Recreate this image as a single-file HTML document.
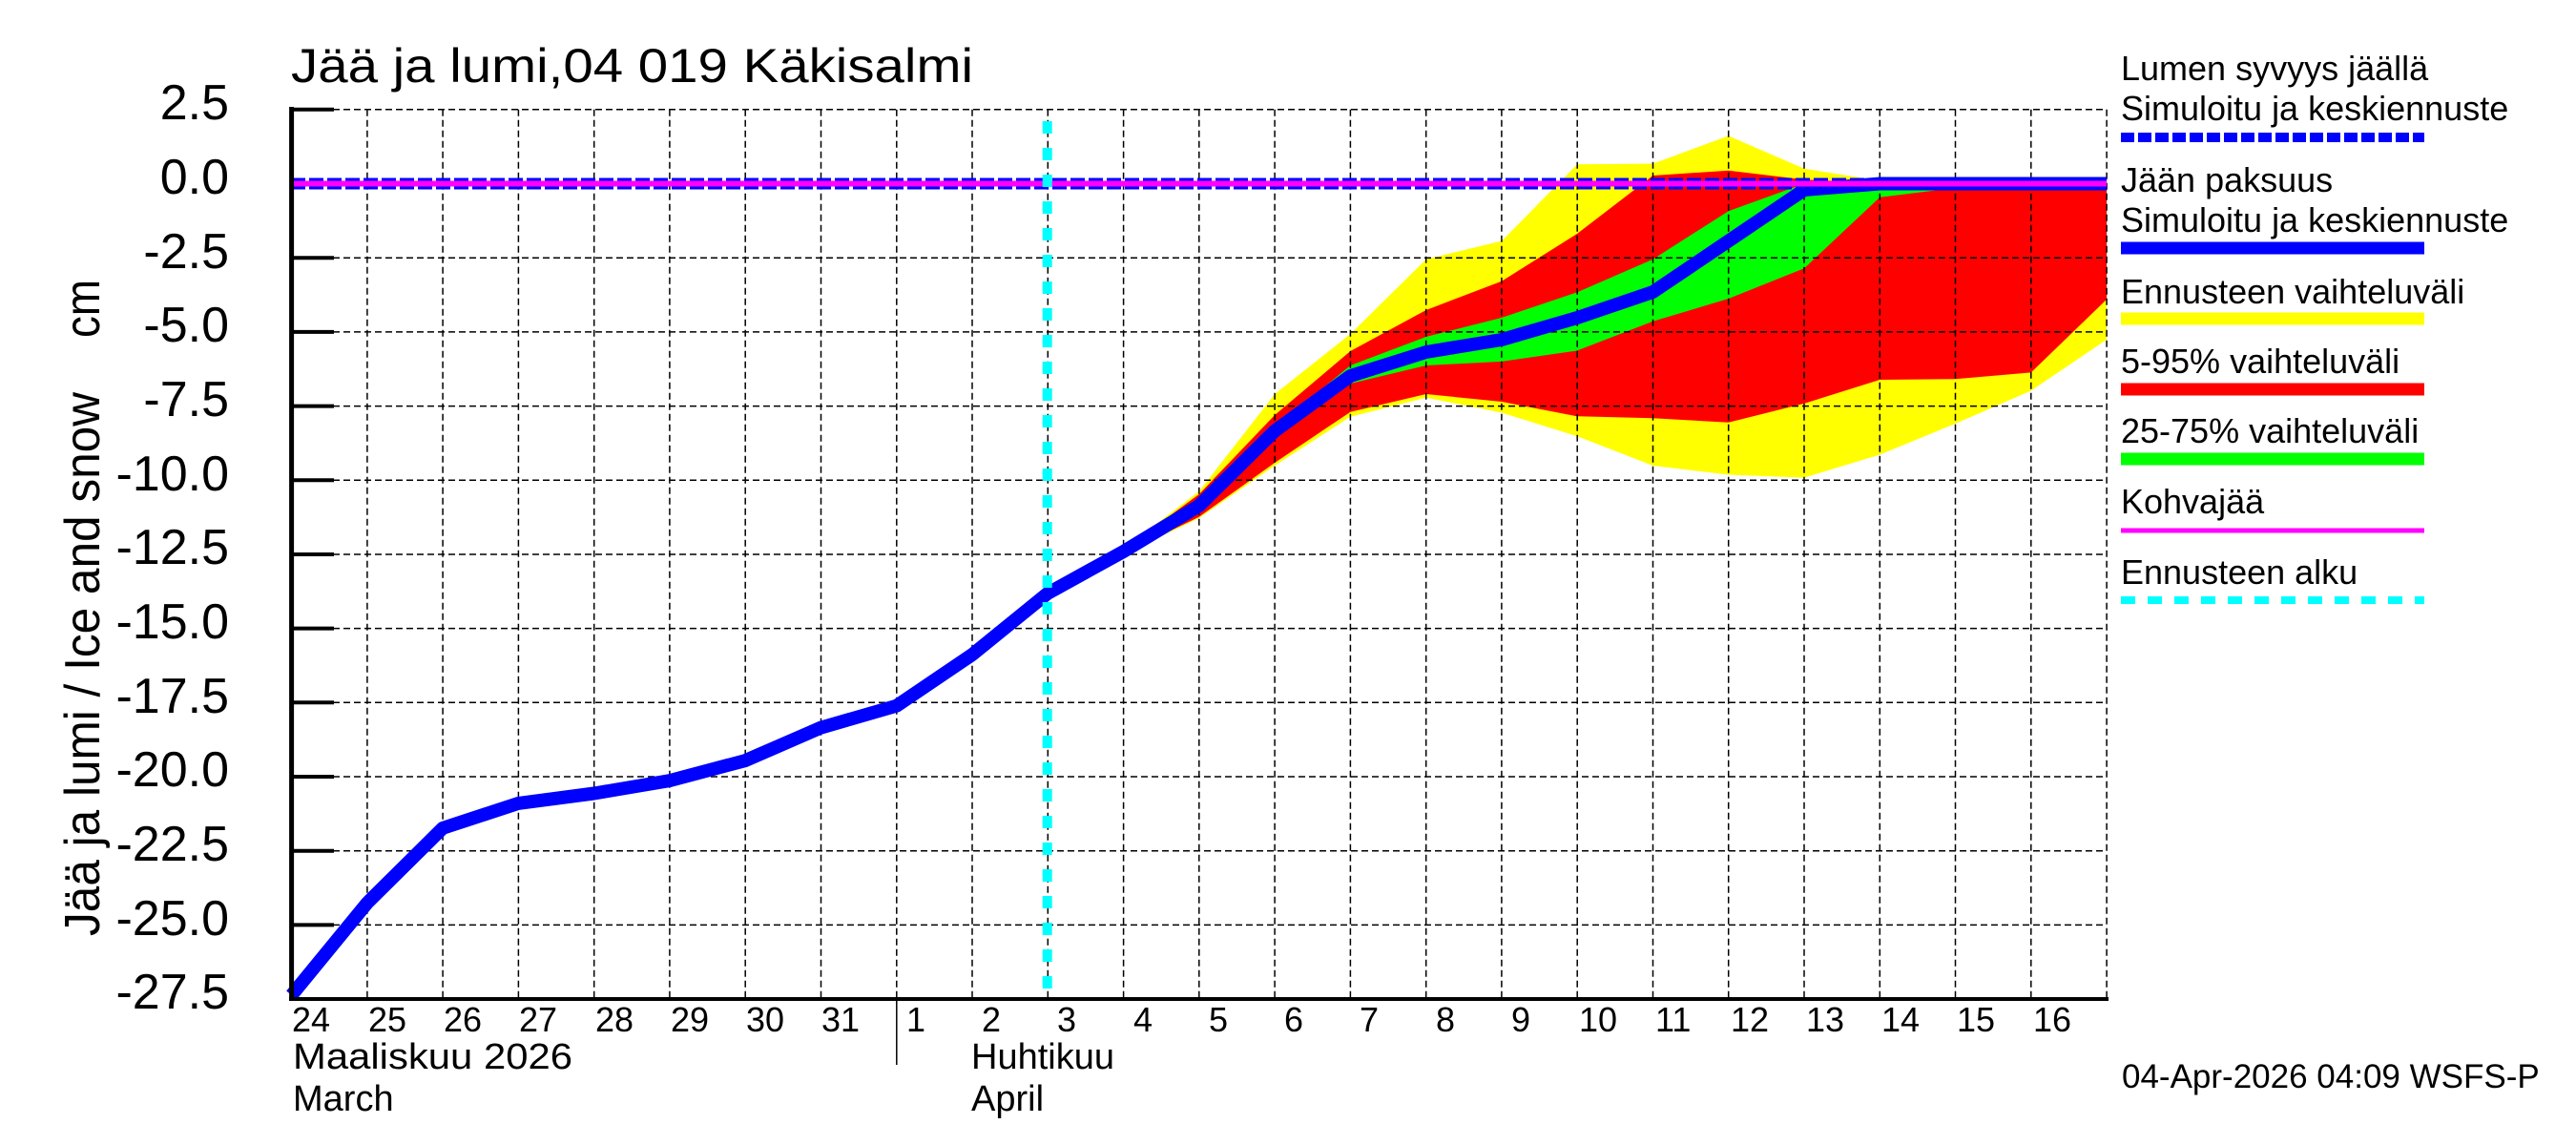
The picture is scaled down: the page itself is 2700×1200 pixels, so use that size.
<!DOCTYPE html>
<html><head><meta charset="utf-8"><style>
html,body{margin:0;padding:0;background:#fff;}
svg{display:block;font-family:"Liberation Sans",Arial,sans-serif;}
</style></head><body>
<svg width="2700" height="1200" viewBox="0 0 2700 1200" xmlns="http://www.w3.org/2000/svg">
<rect width="2700" height="1200" fill="#fff"/>
<polygon fill="#ffff00" points="1098.3,621.7 1177.6,575 1256.8,515 1336.1,413 1415.4,350 1494.7,271.7 1573.9,252.6 1653.2,172.2 1732.5,171.5 1811.7,142.4 1891,176.8 1970.3,189.4 2049.5,192.5 2208.1,192.5 2208.1,355.9 2128.8,409.5 2049.5,444 1970.3,476.5 1891,500.6 1811.7,497.5 1732.5,488 1653.2,457.3 1573.9,432.5 1494.7,416.7 1415.4,436.7 1336.1,488 1256.8,543 1177.6,581"/>
<polygon fill="#ff0000" points="1098.3,621.7 1177.6,576 1256.8,518 1336.1,435 1415.4,368 1494.7,325 1573.9,294.7 1653.2,244.9 1732.5,184 1811.7,178.7 1891,188.3 1970.3,191.4 2049.5,192.5 2208.1,192.5 2208.1,313.8 2128.8,390.4 2049.5,397.2 1970.3,398 1891,422.9 1811.7,442.8 1732.5,438.2 1653.2,436.3 1573.9,421 1494.7,413 1415.4,431.7 1336.1,485 1256.8,541.7 1177.6,580"/>
<polygon fill="#00ff00" points="1256.8,530 1336.1,448 1415.4,383 1494.7,353 1573.9,333 1653.2,306.2 1732.5,271.7 1811.7,221.2 1891,192.5 2049.5,192.5 2049.5,197 1970.3,206.7 1891,281.3 1811.7,313 1732.5,336.8 1653.2,367.4 1573.9,378.9 1494.7,383 1415.4,402 1336.1,455 1256.8,531"/>
<g stroke="#000" stroke-width="1.5" stroke-dasharray="7,4" fill="none">
<line x1="305" y1="114.8" x2="2208" y2="114.8"/>
<line x1="305" y1="270.2" x2="2208" y2="270.2"/>
<line x1="305" y1="347.9" x2="2208" y2="347.9"/>
<line x1="305" y1="425.6" x2="2208" y2="425.6"/>
<line x1="305" y1="503.3" x2="2208" y2="503.3"/>
<line x1="305" y1="581" x2="2208" y2="581"/>
<line x1="305" y1="658.6" x2="2208" y2="658.6"/>
<line x1="305" y1="736.3" x2="2208" y2="736.3"/>
<line x1="305" y1="814" x2="2208" y2="814"/>
<line x1="305" y1="891.7" x2="2208" y2="891.7"/>
<line x1="305" y1="969.4" x2="2208" y2="969.4"/>
<line x1="384.9" y1="114.8" x2="384.9" y2="1047"/>
<line x1="464.1" y1="114.8" x2="464.1" y2="1047"/>
<line x1="543.4" y1="114.8" x2="543.4" y2="1047"/>
<line x1="622.7" y1="114.8" x2="622.7" y2="1047"/>
<line x1="701.9" y1="114.8" x2="701.9" y2="1047"/>
<line x1="781.2" y1="114.8" x2="781.2" y2="1047"/>
<line x1="860.5" y1="114.8" x2="860.5" y2="1047"/>
<line x1="939.8" y1="114.8" x2="939.8" y2="1047"/>
<line x1="1019" y1="114.8" x2="1019" y2="1047"/>
<line x1="1098.3" y1="114.8" x2="1098.3" y2="1047"/>
<line x1="1177.6" y1="114.8" x2="1177.6" y2="1047"/>
<line x1="1256.8" y1="114.8" x2="1256.8" y2="1047"/>
<line x1="1336.1" y1="114.8" x2="1336.1" y2="1047"/>
<line x1="1415.4" y1="114.8" x2="1415.4" y2="1047"/>
<line x1="1494.7" y1="114.8" x2="1494.7" y2="1047"/>
<line x1="1573.9" y1="114.8" x2="1573.9" y2="1047"/>
<line x1="1653.2" y1="114.8" x2="1653.2" y2="1047"/>
<line x1="1732.5" y1="114.8" x2="1732.5" y2="1047"/>
<line x1="1811.7" y1="114.8" x2="1811.7" y2="1047"/>
<line x1="1891" y1="114.8" x2="1891" y2="1047"/>
<line x1="1970.3" y1="114.8" x2="1970.3" y2="1047"/>
<line x1="2049.5" y1="114.8" x2="2049.5" y2="1047"/>
<line x1="2128.8" y1="114.8" x2="2128.8" y2="1047"/>
<line x1="2208.1" y1="114.8" x2="2208.1" y2="1047"/>
</g>
<polyline fill="none" stroke="#0000ff" stroke-width="14" stroke-linejoin="round" points="305.6,1043 384.9,946.3 464.1,867.9 543.4,841.9 622.7,831.5 701.9,818.1 781.2,797.1 860.5,762.6 939.8,739.7 1019,686.1 1098.3,621.7 1177.6,578 1256.8,530 1336.1,451.7 1415.4,394 1494.7,369 1573.9,356 1653.2,333 1732.5,306 1811.7,252.6 1891,199 1970.3,192.5 2208.1,192.5"/>
<line x1="305" y1="192.5" x2="2208" y2="192.5" stroke="#0000ff" stroke-width="12" stroke-dasharray="15,4"/>
<line x1="305" y1="192.5" x2="2208" y2="192.5" stroke="#ff00ff" stroke-width="6"/>
<line x1="1097.7" y1="127" x2="1097.7" y2="1047" stroke="#00ffff" stroke-width="10" stroke-dasharray="13,15"/>
<line x1="305.6" y1="112" x2="305.6" y2="1049" stroke="#000" stroke-width="5"/>
<line x1="303" y1="1047" x2="2210" y2="1047" stroke="#000" stroke-width="4"/>
<g stroke="#000" stroke-width="4">
<line x1="305" y1="114.8" x2="350" y2="114.8"/>
<line x1="305" y1="270.2" x2="350" y2="270.2"/>
<line x1="305" y1="347.9" x2="350" y2="347.9"/>
<line x1="305" y1="425.6" x2="350" y2="425.6"/>
<line x1="305" y1="503.3" x2="350" y2="503.3"/>
<line x1="305" y1="581" x2="350" y2="581"/>
<line x1="305" y1="658.6" x2="350" y2="658.6"/>
<line x1="305" y1="736.3" x2="350" y2="736.3"/>
<line x1="305" y1="814" x2="350" y2="814"/>
<line x1="305" y1="891.7" x2="350" y2="891.7"/>
<line x1="305" y1="969.4" x2="350" y2="969.4"/>
</g>
<line x1="939.8" y1="1047" x2="939.8" y2="1116" stroke="#000" stroke-width="1.5"/>
<g font-size="52" text-anchor="end" fill="#000">
<text x="240" y="125">2.5</text>
<text x="240" y="203">0.0</text>
<text x="240" y="281">-2.5</text>
<text x="240" y="358">-5.0</text>
<text x="240" y="436">-7.5</text>
<text x="240" y="514">-10.0</text>
<text x="240" y="591">-12.5</text>
<text x="240" y="669">-15.0</text>
<text x="240" y="747">-17.5</text>
<text x="240" y="824">-20.0</text>
<text x="240" y="902">-22.5</text>
<text x="240" y="980">-25.0</text>
<text x="240" y="1057">-27.5</text>
</g>
<text transform="translate(104,981) rotate(-90)" font-size="52" textLength="570" lengthAdjust="spacingAndGlyphs">Jää ja lumi / Ice and snow</text>
<text transform="translate(104,354) rotate(-90)" font-size="52" textLength="61" lengthAdjust="spacingAndGlyphs">cm</text>
<text x="305" y="86" font-size="50" textLength="715" lengthAdjust="spacingAndGlyphs">Jää ja lumi,04 019 Käkisalmi</text>
<g font-size="36" fill="#000">
<text x="306" y="1081">24</text>
<text x="386" y="1081">25</text>
<text x="465" y="1081">26</text>
<text x="544" y="1081">27</text>
<text x="624" y="1081">28</text>
<text x="703" y="1081">29</text>
<text x="782" y="1081">30</text>
<text x="861" y="1081">31</text>
<text x="950" y="1081">1</text>
<text x="1029" y="1081">2</text>
<text x="1108" y="1081">3</text>
<text x="1188" y="1081">4</text>
<text x="1267" y="1081">5</text>
<text x="1346" y="1081">6</text>
<text x="1425" y="1081">7</text>
<text x="1505" y="1081">8</text>
<text x="1584" y="1081">9</text>
<text x="1655" y="1081">10</text>
<text x="1735" y="1081">11</text>
<text x="1814" y="1081">12</text>
<text x="1893" y="1081">13</text>
<text x="1972" y="1081">14</text>
<text x="2051" y="1081">15</text>
<text x="2131" y="1081">16</text>
</g>
<g font-size="38" fill="#000">
<text x="307" y="1120" textLength="293" lengthAdjust="spacingAndGlyphs">Maaliskuu 2026</text>
<text x="307" y="1164">March</text>
<text x="1018" y="1120">Huhtikuu</text>
<text x="1018" y="1164">April</text>
</g>
<g font-size="36" fill="#000">
<text x="2223" y="84">Lumen syvyys jäällä</text>
<text x="2223" y="126">Simuloitu ja keskiennuste</text>
<text x="2223" y="201">Jään paksuus</text>
<text x="2223" y="243">Simuloitu ja keskiennuste</text>
<text x="2223" y="318">Ennusteen vaihteluväli</text>
<text x="2223" y="391">5-95% vaihteluväli</text>
<text x="2223" y="464">25-75% vaihteluväli</text>
<text x="2223" y="538">Kohvajää</text>
<text x="2223" y="612">Ennusteen alku</text>
</g>
<line x1="2223" y1="144" x2="2541" y2="144" stroke="#0000ff" stroke-width="10" stroke-dasharray="14,4"/>
<line x1="2223" y1="260" x2="2541" y2="260" stroke="#0000ff" stroke-width="13"/>
<line x1="2223" y1="334" x2="2541" y2="334" stroke="#ffff00" stroke-width="13"/>
<line x1="2223" y1="408" x2="2541" y2="408" stroke="#ff0000" stroke-width="13"/>
<line x1="2223" y1="481" x2="2541" y2="481" stroke="#00ff00" stroke-width="13"/>
<line x1="2223" y1="556" x2="2541" y2="556" stroke="#ff00ff" stroke-width="5"/>
<line x1="2223" y1="629" x2="2541" y2="629" stroke="#00ffff" stroke-width="8" stroke-dasharray="15,13"/>
<text x="2224" y="1140" font-size="35" fill="#000">04-Apr-2026 04:09 WSFS-P</text>
</svg>
</body></html>
